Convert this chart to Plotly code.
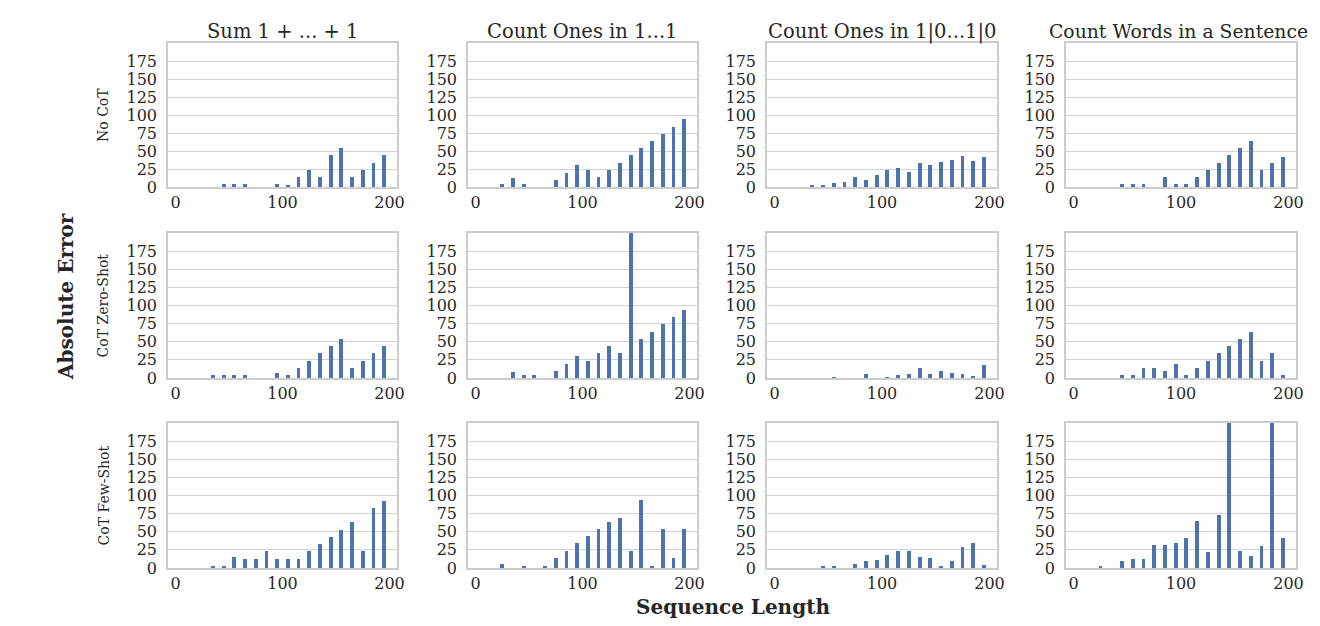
import plotly.graph_objects as go
from plotly.subplots import make_subplots

# sequence lengths (bar centres)
lengths = [5, 15, 25, 35, 45, 55, 65, 75, 85, 95, 105, 115, 125, 135, 145, 155, 165, 175, 185, 195]

tasks = ['Sum 1 + ... + 1', 'Count Ones in 1...1', 'Count Ones in 1|0...1|0', 'Count Words in a Sentence']
methods = ['No CoT', 'CoT Zero-Shot', 'CoT Few-Shot']

# No CoT
no_cot_sum = [0, 0, 0, 0, 4, 4, 4, 0, 0, 4, 3, 14, 23, 14, 44, 54, 14, 23, 34, 44]
no_cot_ones = [0, 0, 4, 13, 4, 0, 0, 10, 20, 30, 24, 14, 24, 34, 44, 54, 64, 74, 84, 94]
no_cot_alt = [0, 0, 0, 2, 2, 6, 7, 14, 10, 16, 24, 26, 21, 34, 30, 35, 37, 43, 36, 41]
no_cot_words = [0, 0, 0, 0, 4, 4, 4, 0, 14, 4, 4, 14, 24, 34, 44, 54, 64, 24, 34, 41]

# CoT Zero-Shot
zero_sum = [0, 0, 0, 4, 4, 4, 4, 0, 0, 7, 4, 14, 24, 34, 44, 54, 14, 24, 34, 44]
zero_ones = [0, 0, 0, 8, 4, 4, 0, 10, 20, 31, 24, 34, 44, 34, 250, 54, 64, 74, 84, 94]
zero_alt = [0, 0, 0, 0, 0, 1, 0, 0, 5, 0, 1, 4, 5, 14, 6, 9, 7, 6, 2, 18]
zero_words = [0, 0, 0, 0, 4, 4, 14, 14, 9, 19, 4, 14, 24, 34, 44, 54, 64, 24, 34, 4]

# CoT Few-Shot
few_sum = [0, 0, 0, 2, 2, 15, 13, 13, 23, 13, 13, 13, 23, 33, 43, 53, 63, 23, 83, 93]
few_ones = [0, 0, 6, 0, 3, 0, 3, 14, 24, 34, 44, 54, 64, 69, 24, 94, 3, 54, 14, 54]
few_alt = [0, 0, 0, 0, 2, 2, 0, 5, 9, 11, 18, 24, 24, 15, 14, 2, 10, 29, 34, 4]
few_words = [0, 0, 2, 0, 10, 12, 12, 32, 32, 34, 42, 65, 22, 73, 250, 24, 17, 30, 250, 42]

grid = [
    [no_cot_sum, no_cot_ones, no_cot_alt, no_cot_words],
    [zero_sum, zero_ones, zero_alt, zero_words],
    [few_sum, few_ones, few_alt, few_words],
]

# page has an 8px body margin on every side, keep the figure inside it
OFF = 8
W, H = 1320 - 2 * OFF, 626 - 2 * OFF
col_px = [(168, 397), (468, 697), (767, 997), (1066, 1296)]
row_px = [(43, 187), (233, 378), (423, 568)]


def px(x):
    return (x - OFF) / W


def py(y):
    return 1 - (y - OFF) / H


FONT = 'DejaVu Serif'
TXT = '#262626'
BAR = '#4c72b0'

fig = make_subplots(rows=3, cols=4)

for r in range(3):
    for c in range(4):
        fig.add_trace(go.Bar(x=lengths, y=grid[r][c], width=3.5, marker_color=BAR,
                             marker_line_width=0, showlegend=False), row=r + 1, col=c + 1)

for r in range(3):
    for c in range(4):
        n = r * 4 + c + 1
        xd = [px(col_px[c][0]), px(col_px[c][1])]
        yd = [py(row_px[r][1]), py(row_px[r][0])]
        fig.layout['xaxis%s' % ('' if n == 1 else n)].update(
            domain=xd, range=[-7, 207], tickvals=[0, 100, 200], showgrid=False,
            zeroline=False, showline=True, mirror=True, linecolor='#cccccc', linewidth=1.5,
            ticks='', ticklabelstandoff=0, tickfont=dict(family=FONT, size=16, color=TXT),
            automargin=False)
        fig.layout['yaxis%s' % ('' if n == 1 else n)].update(
            domain=yd, range=[0, 200], tickvals=[0, 25, 50, 75, 100, 125, 150, 175],
            showgrid=True, gridcolor='#d2d2d2', gridwidth=1, zeroline=False,
            showline=True, mirror=True, linecolor='#cccccc', linewidth=1.5,
            ticks='', ticklabelstandoff=6, tickfont=dict(family=FONT, size=16, color=TXT),
            automargin=False)

# column titles (last one slightly smaller so it stays inside the page)
title_size = [19.5, 19.5, 19.5, 18.8]
title_shift = [0, 0, 0, -3]
for c, t in enumerate(tasks):
    fig.add_annotation(text=t, xref='paper', yref='paper',
                       x=px((col_px[c][0] + col_px[c][1]) / 2 + title_shift[c]), y=py(32),
                       xanchor='center', yanchor='middle', showarrow=False,
                       font=dict(family=FONT, size=title_size[c], color=TXT))

# row labels
for r, m in enumerate(methods):
    fig.add_annotation(text=m, xref='paper', yref='paper',
                       x=px(103), y=py((row_px[r][0] + row_px[r][1]) / 2),
                       xanchor='center', yanchor='middle', textangle=-90, showarrow=False,
                       font=dict(family=FONT, size=14, color=TXT))

fig.add_annotation(text='<b>Absolute Error</b>', xref='paper', yref='paper',
                   x=px(66), y=py(297), xanchor='center', yanchor='middle',
                   textangle=-90, showarrow=False, font=dict(family=FONT, size=20, color=TXT))
fig.add_annotation(text='<b>Sequence Length</b>', xref='paper', yref='paper',
                   x=px(733), y=py(607), xanchor='center', yanchor='middle',
                   showarrow=False, font=dict(family=FONT, size=20, color=TXT))

fig.update_layout(template='none', width=W, height=H,
                  margin=dict(l=0, r=0, t=0, b=0),
                  paper_bgcolor='white', plot_bgcolor='white',
                  bargap=0, showlegend=False)

fig.write_html("out.html")
